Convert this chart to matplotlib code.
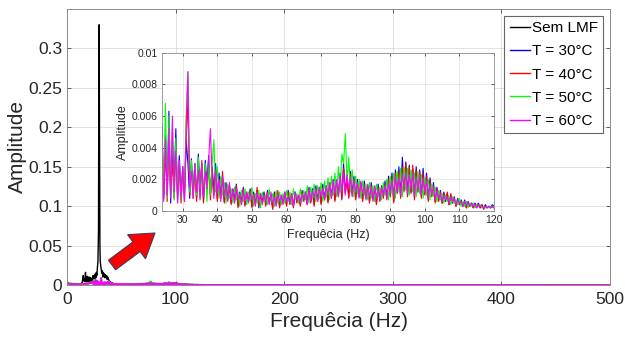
import numpy as np
import matplotlib
matplotlib.use("Agg")
import matplotlib.pyplot as plt
import matplotlib.patches as mpatches
from matplotlib.transforms import IdentityTransform

plt.rcParams["font.family"] = ["Liberation Sans", "DejaVu Sans"]

# ---- data ----
labels = ["Sem LMF", "T = 30°C", "T = 40°C", "T = 50°C", "T = 60°C"]
colors = ["#000000", "#0000ff", "#ff0000", "#00ff00", "#ff00ff"]

# reference spectrum (no field), Hz / amplitude
f_ref = [0, 2, 4, 6, 8, 10, 12, 14, 15, 15.5, 16, 16.5, 17, 17.5, 18, 18.5,
         19, 19.5, 20, 20.5, 21, 21.5, 22, 22.5, 23, 23.5, 24, 24.5, 25, 25.5,
         26, 26.5, 27, 27.5, 28, 28.5, 29, 29.3, 29.6, 30, 30.3, 30.6, 31,
         31.5, 32, 32.5, 33, 33.5, 34, 34.5, 35, 35.5, 36, 36.5, 37, 37.5, 38,
         39, 40, 42, 45, 50, 60, 80, 100, 150, 200, 300, 400, 500]
a_ref = [0.003, 0.002, 0.002, 0.0015, 0.001, 0.001, 0.001, 0.003, 0.012, 0.005,
         0.008, 0.004, 0.016, 0.006, 0.010, 0.004, 0.011, 0.005, 0.009, 0.004,
         0.010, 0.005, 0.008, 0.005, 0.009, 0.006, 0.012, 0.007, 0.010, 0.008,
         0.014, 0.009, 0.016, 0.012, 0.022, 0.030, 0.070, 0.250, 0.330, 0.165,
         0.050, 0.030, 0.025, 0.020, 0.015, 0.018, 0.010, 0.016, 0.012, 0.014,
         0.009, 0.013, 0.010, 0.012, 0.007, 0.010, 0.008, 0.005, 0.004, 0.002,
         0.001, 0.001, 0.0008, 0.0008, 0.0005, 0.0003, 0.0002, 0.0002, 0.0002,
         0.0002]

# field spectra, 24-120 Hz every 0.5 Hz, amplitude in units of 1e-4
f_zoom = np.arange(24, 120.25, 0.5)
a30 = [55, 8, 48, 12, 63, 5, 40, 15, 52, 6,
       35, 10, 28, 6, 45, 30, 8, 33, 12, 30,
       8, 36, 14, 30, 6, 32, 18, 35, 10, 28,
       12, 30, 8, 24, 10, 22, 6, 18, 9, 16,
       5, 14, 8, 17, 3, 12, 6, 15, 4, 11,
       7, 14, 3, 12, 5, 13, 2, 11, 6, 12,
       4, 13, 6, 10, 2, 12, 5, 11, 3, 10,
       6, 12, 4, 13, 5, 11, 3, 12, 6, 10,
       4, 13, 7, 12, 5, 15, 6, 14, 4, 16,
       7, 15, 5, 17, 8, 16, 6, 18, 9, 20,
       7, 19, 10, 24, 8, 30, 12, 22, 9, 25,
       11, 22, 8, 20, 10, 18, 7, 19, 9, 16,
       6, 18, 8, 15, 5, 17, 7, 16, 9, 19,
       8, 22, 10, 24, 6, 26, 12, 28, 9, 34,
       14, 31, 10, 29, 12, 27, 8, 28, 13, 26,
       9, 27, 11, 24, 7, 21, 10, 18, 6, 15,
       7, 13, 5, 12, 6, 11, 4, 10, 5, 9,
       3, 8, 4, 7, 3, 7, 2, 6, 3, 5,
       2, 5, 3, 5, 2, 4, 2, 4, 2, 3,
       2, 4, 3]
a40 = [50, 10, 38, 6, 45, 14, 30, 8, 42, 10,
       28, 5, 25, 12, 45, 70, 10, 28, 8, 25,
       6, 30, 10, 32, 5, 28, 12, 30, 7, 26,
       10, 24, 6, 20, 8, 25, 5, 16, 7, 15,
       4, 13, 6, 16, 2, 11, 5, 14, 3, 12,
       6, 13, 2, 11, 4, 15, 3, 10, 5, 11,
       3, 12, 5, 9, 1, 11, 4, 13, 2, 9,
       5, 11, 3, 12, 4, 10, 2, 11, 5, 9,
       3, 12, 6, 11, 4, 13, 5, 12, 3, 14,
       6, 14, 4, 15, 7, 15, 5, 17, 8, 18,
       6, 17, 9, 22, 7, 27, 11, 20, 8, 23,
       10, 20, 7, 18, 9, 16, 6, 17, 8, 15,
       5, 16, 7, 14, 4, 15, 6, 15, 8, 17,
       7, 20, 9, 22, 5, 24, 11, 25, 8, 28,
       12, 30, 9, 28, 11, 29, 7, 26, 12, 25,
       8, 24, 10, 22, 6, 19, 9, 16, 5, 14,
       6, 12, 5, 11, 7, 12, 4, 11, 5, 8,
       3, 7, 4, 6, 3, 6, 2, 5, 3, 5,
       2, 4, 2, 4, 2, 4, 1, 3, 2, 3,
       2, 3, 2]
a50 = [45, 12, 68, 8, 60, 10, 52, 7, 46, 12,
       30, 8, 26, 14, 60, 88, 12, 32, 9, 30,
       10, 34, 8, 28, 12, 30, 6, 32, 10, 30,
       45, 12, 28, 8, 22, 10, 18, 5, 17, 8,
       14, 5, 15, 7, 12, 3, 13, 6, 14, 4,
       12, 6, 15, 3, 11, 5, 13, 2, 12, 6,
       10, 4, 14, 6, 11, 3, 13, 5, 12, 4,
       11, 5, 13, 6, 12, 4, 14, 7, 11, 5,
       14, 6, 13, 7, 16, 5, 15, 8, 17, 6,
       16, 8, 18, 6, 19, 9, 21, 7, 22, 10,
       24, 9, 28, 12, 36, 30, 49, 18, 34, 12,
       26, 9, 22, 11, 20, 8, 19, 10, 17, 7,
       18, 8, 16, 6, 17, 9, 15, 7, 18, 10,
       20, 7, 22, 11, 24, 8, 25, 12, 27, 9,
       28, 13, 27, 10, 26, 12, 24, 9, 25, 11,
       23, 8, 21, 10, 20, 7, 17, 9, 15, 6,
       13, 7, 11, 5, 10, 6, 9, 4, 9, 5,
       7, 4, 8, 3, 6, 3, 6, 2, 5, 3,
       5, 2, 4, 3, 4, 2, 3, 2, 3, 2,
       3, 2, 3]
a60 = [40, 6, 45, 10, 52, 8, 60, 12, 38, 5,
       32, 9, 28, 6, 55, 88, 15, 25, 8, 30,
       12, 26, 7, 30, 9, 25, 14, 33, 52, 20,
       8, 26, 11, 20, 6, 22, 9, 17, 6, 18,
       7, 13, 5, 14, 8, 11, 4, 13, 6, 12,
       5, 12, 7, 10, 3, 12, 6, 11, 4, 10,
       6, 11, 4, 12, 5, 9, 3, 11, 6, 10,
       4, 12, 6, 9, 5, 11, 3, 12, 7, 10,
       5, 11, 7, 12, 4, 14, 6, 13, 8, 14,
       6, 15, 9, 14, 7, 16, 10, 18, 8, 19,
       11, 20, 9, 22, 12, 24, 10, 23, 14, 21,
       9, 20, 12, 18, 8, 19, 11, 16, 7, 17,
       9, 15, 6, 16, 8, 14, 7, 15, 10, 16,
       8, 18, 11, 20, 9, 22, 12, 21, 10, 24,
       13, 25, 11, 23, 14, 24, 10, 22, 12, 23,
       10, 21, 12, 19, 8, 17, 10, 15, 7, 13,
       8, 11, 6, 10, 7, 9, 5, 9, 6, 8,
       4, 7, 5, 6, 3, 6, 4, 5, 3, 5,
       3, 4, 2, 4, 3, 3, 2, 3, 2, 3,
       2, 3, 2]
# low-frequency head and high-frequency tail shared by the field spectra
f_head = [0, 4, 8, 12, 16, 20, 23.5]
a_head = [20, 10, 8, 10, 15, 20, 30]
f_tail = [125, 150, 200, 300, 400, 500]
a_tail = [2, 2, 1, 1, 1, 1]
scale = 1e-4
# -----------------------------------

field = [a30, a40, a50, a60]
for a in field:
    assert len(a) == len(f_zoom), len(a)

tick_col = "#262626"

fig = plt.figure(figsize=(6.25, 3.43), dpi=100)
ax = fig.add_axes([0.1072, 0.1691, 0.8688, 0.8047])

ax.plot(f_ref, a_ref, color=colors[0], lw=1.0, label=labels[0])
f_full = np.concatenate([f_head, f_zoom, f_tail])
for a, c, lab in zip(field, colors[1:], labels[1:]):
    a_full = np.concatenate([a_head, a, a_tail]) * scale
    ax.plot(f_full, a_full, color=c, lw=1.2, label=lab)

ax.set_xlim(0, 500)
ax.set_ylim(0, 0.35)
ax.set_xticks([0, 100, 200, 300, 400, 500])
ax.set_yticks([0, 0.05, 0.1, 0.15, 0.2, 0.25, 0.3])
ax.set_yticklabels(["0", "0.05", "0.1", "0.15", "0.2", "0.25", "0.3"])
ax.tick_params(direction="in", length=3, width=0.5, colors=tick_col,
               labelsize=12.5, top=True, right=True)
ax.tick_params(axis="x", pad=5)
ax.grid(True, color=tick_col, alpha=0.15, lw=0.6)
for s in ax.spines.values():
    s.set_color("#8c8c8c")
    s.set_linewidth(0.7)
ax.set_xlabel("Frequêcia (Hz)", fontsize=15, color=tick_col, labelpad=4)
ax.set_ylabel("Amplitude", fontsize=15, color=tick_col, labelpad=1)

leg = ax.legend(loc="upper right", fontsize=11, handlelength=1.35,
                handletextpad=0.1, labelspacing=0.6, borderpad=0.35,
                borderaxespad=0.45, fancybox=False, framealpha=1)
leg.get_frame().set_edgecolor("#666666")
leg.get_frame().set_linewidth(0.8)
for h in leg.get_lines():
    h.set_linewidth(1.0)

# inset zoom on 24-120 Hz
axi = fig.add_axes([0.2592, 0.3848, 0.5312, 0.4615])
for a, c in zip(field, colors[1:]):
    axi.plot(f_zoom, np.array(a) * scale, color=c, lw=0.8)
axi.set_xlim(24, 120)
axi.set_ylim(0, 0.01)
axi.set_xticks(np.arange(30, 121, 10))
axi.set_yticks([0, 0.002, 0.004, 0.006, 0.008, 0.01])
axi.set_yticklabels(["0", "0.002", "0.004", "0.006", "0.008", "0.01"])
axi.tick_params(direction="in", length=2, width=0.5, colors=tick_col,
                labelsize=7.5, top=True, right=True, pad=3)
axi.grid(True, color=tick_col, alpha=0.15, lw=0.5)
for s in axi.spines.values():
    s.set_color("#8c8c8c")
    s.set_linewidth(0.6)
axi.set_xlabel("Frequêcia (Hz)", fontsize=9, color=tick_col, labelpad=3)
axi.set_ylabel("Amplitude", fontsize=9, color=tick_col, labelpad=2)

# red arrow pointing at the inset (pixel coordinates)
arrow = mpatches.FancyArrow(112, 343 - 265, 43, 32, width=12, head_width=30,
                            head_length=23, length_includes_head=True,
                            facecolor="#ff0000", edgecolor="#3a3a5a",
                            linewidth=0.8, transform=IdentityTransform())
fig.add_artist(arrow)

fig.savefig("out.png", dpi=100)
